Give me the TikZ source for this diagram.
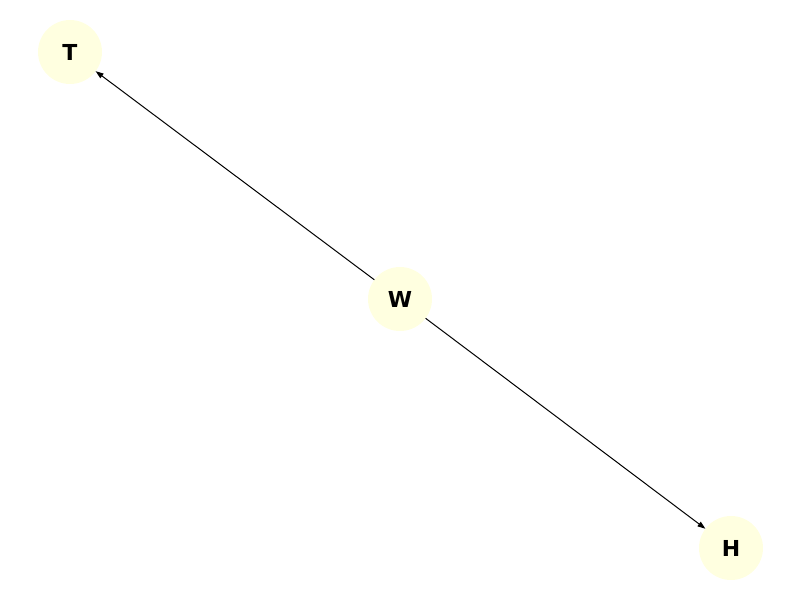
\documentclass[tikz,border=0pt]{standalone}
\usepackage{fontspec}
\setmainfont{DejaVu Sans}
\usepackage{tikz}
\usetikzlibrary{arrows.meta}
\definecolor{nodefill}{HTML}{FFFFE0}
\tikzset{>={Triangle[length=8pt,width=5.5pt]},
	vertex/.style={% Nodes of the graph
		shape=circle,
		fill=nodefill,
		draw=none,
		minimum size=64pt,
		inner sep=0pt,
		outer sep=0pt,
		font=\fontsize{22}{26}\selectfont\bfseries
	},
	link/.style={->, line width=1pt, black}
}
\begin{document}
\begin{tikzpicture}[x=1pt, y=-1pt]
		\useasboundingbox (0,0) rectangle (800,600);
		\node[vertex] (T) at (70,52) {T};
		\node[vertex] (W) at (400,299) {W};
		\node[vertex] (H) at (731,548) {H};
		
		\draw [link] (W) -- (T);
		\draw [link] (W) -- (H);
	\end{tikzpicture}
\end{document}
